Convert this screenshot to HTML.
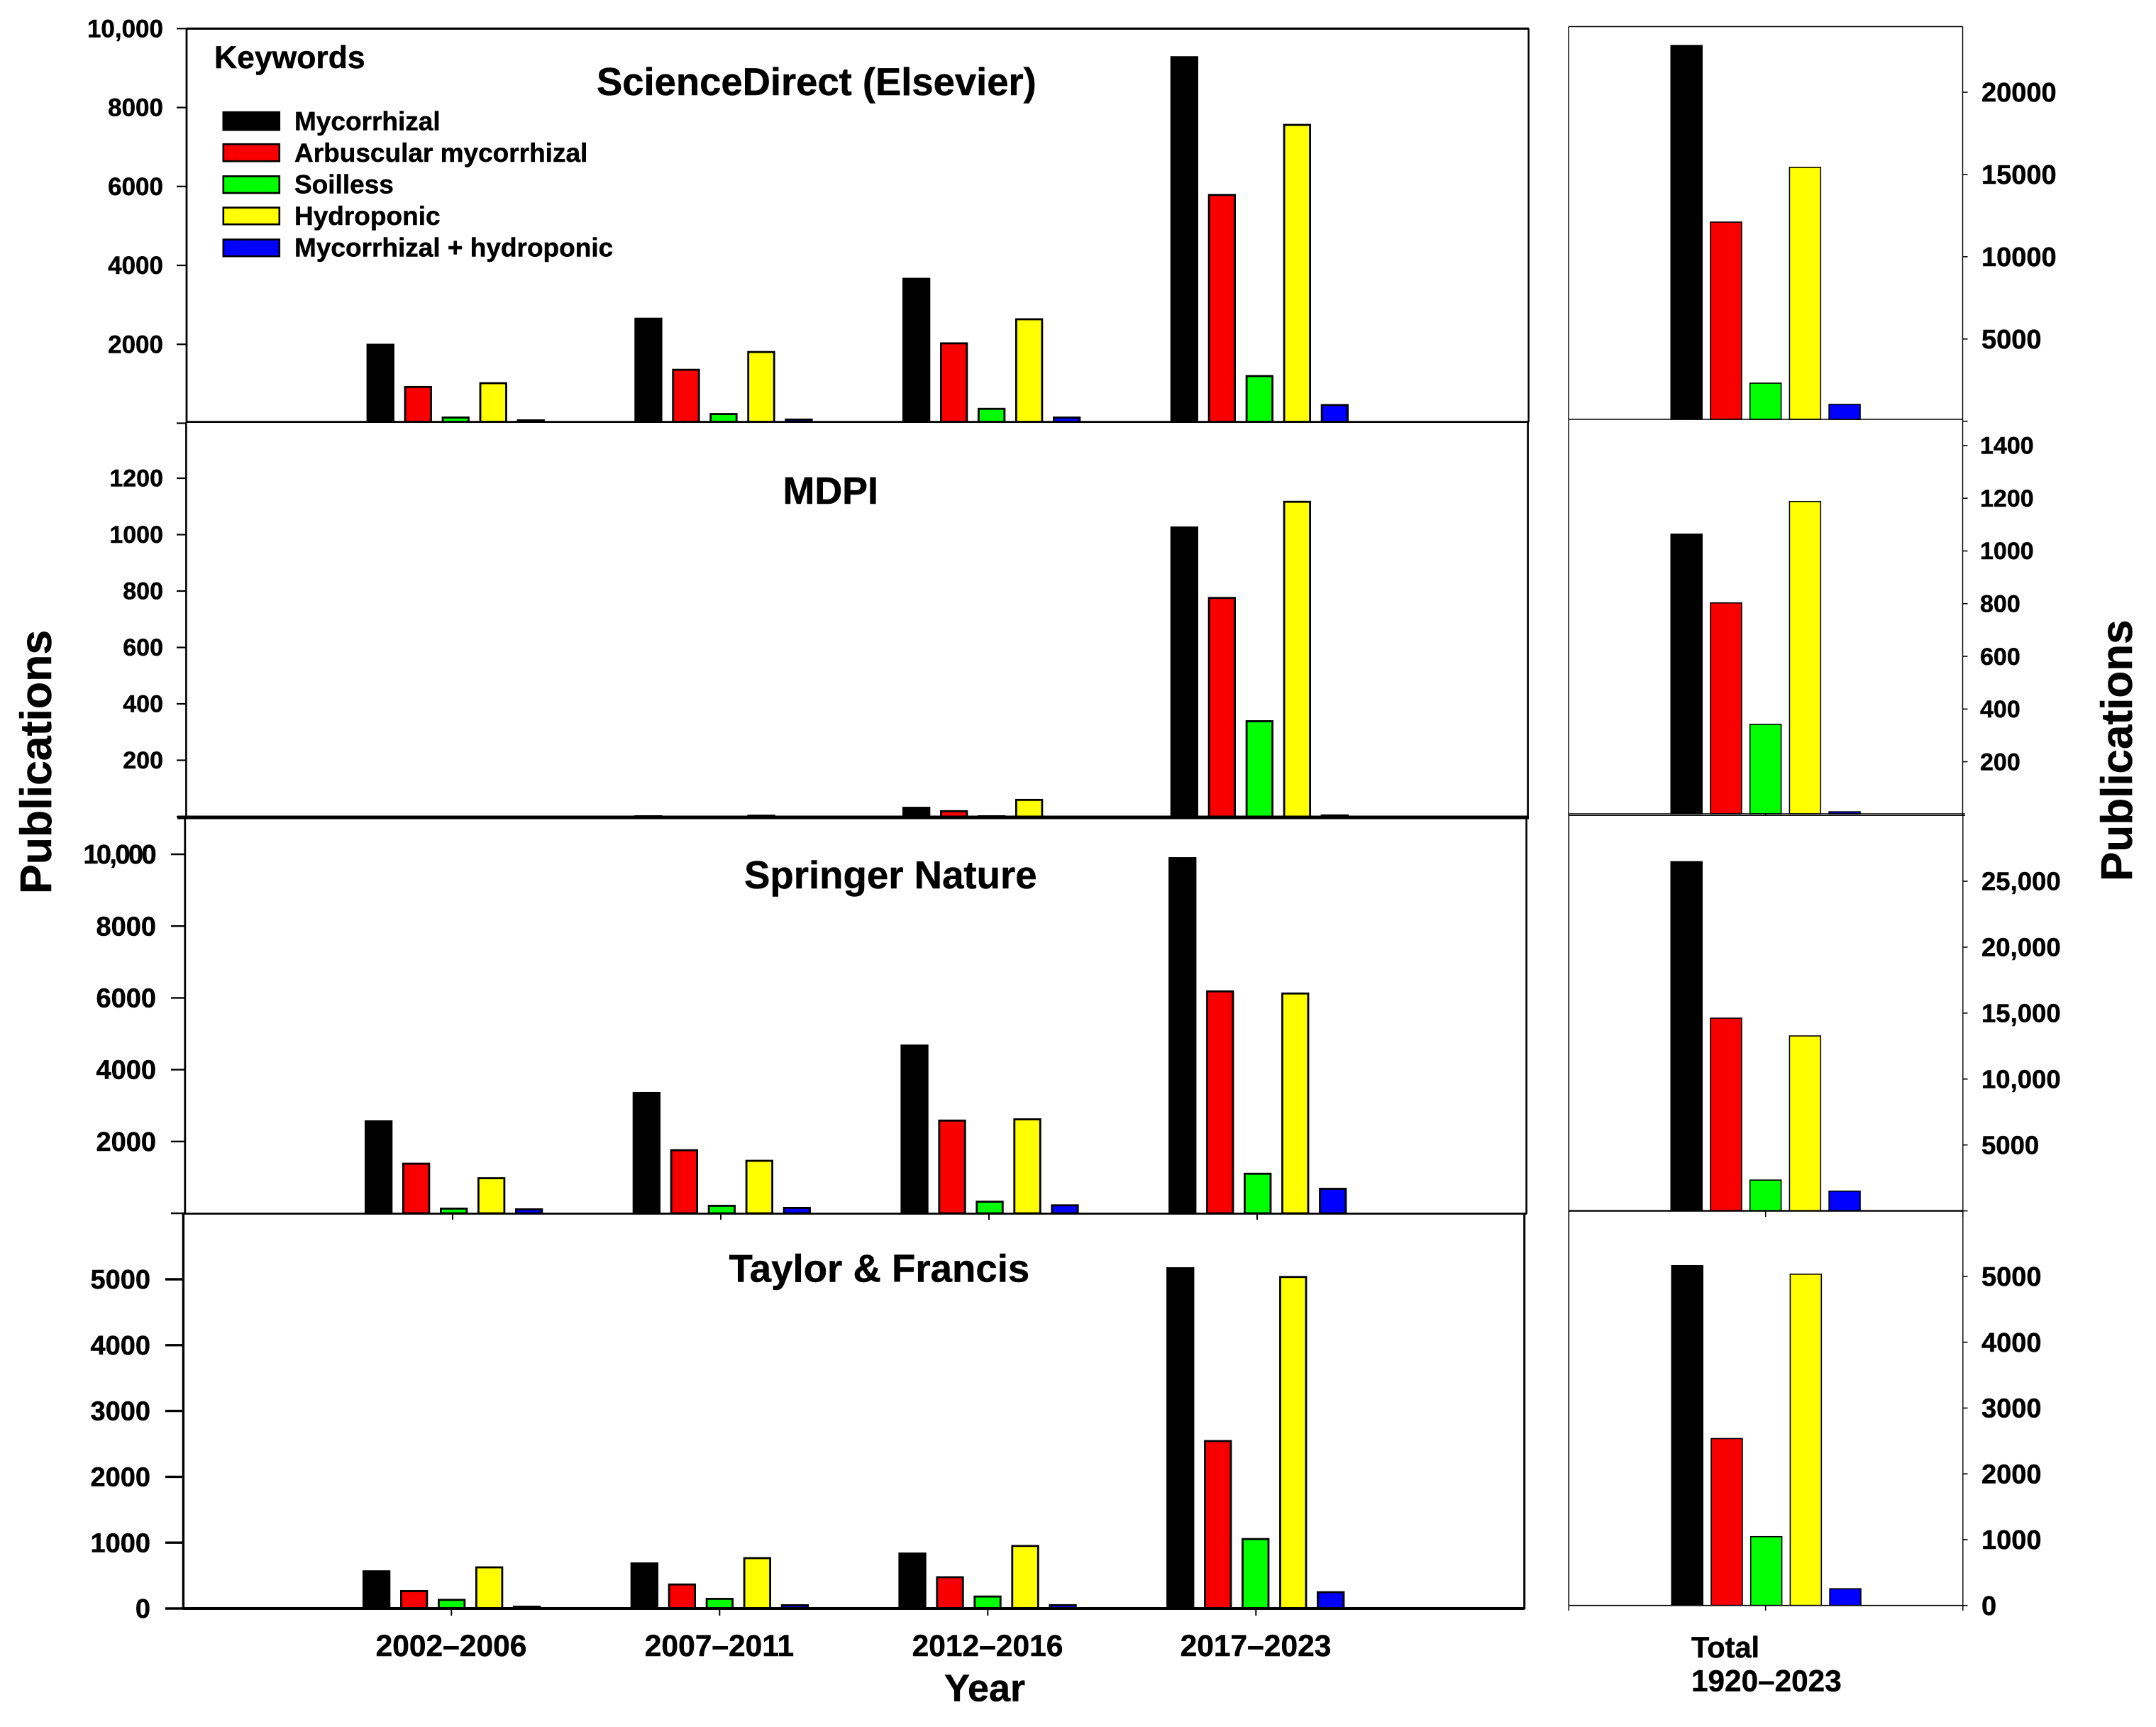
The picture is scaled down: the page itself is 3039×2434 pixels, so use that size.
<!DOCTYPE html>
<html lang="en">
<head>
<meta charset="utf-8">
<title>Publications by keyword and publisher</title>
<style>
html,body{margin:0;padding:0;background:#fff;}
svg{display:block;}
text{font-family:"Liberation Sans",sans-serif;font-weight:700;fill:#000;stroke:#000;stroke-width:0.5px;}
</style>
</head>
<body>
<svg id="chart" xmlns="http://www.w3.org/2000/svg" width="3039" height="2434" viewBox="0 0 3039 2434">
<rect x="0" y="0" width="3039" height="2434" fill="#fff"/>
<g id="bars"></g>

<g stroke="#000" fill="none">
  <line x1="263" y1="40.3" x2="2155" y2="40.3" stroke-width="3.2"/>
  <line x1="263" y1="40" x2="263" y2="596" stroke-width="2.8"/>
  <line x1="2154.6" y1="40" x2="2154.6" y2="595" stroke-width="2.4"/>
  <line x1="263" y1="594.6" x2="2155" y2="594.6" stroke-width="2.8"/>
  <line x1="262.4" y1="595" x2="262.4" y2="1152" stroke-width="2.6"/>
  <line x1="2153.6" y1="595" x2="2153.6" y2="1152" stroke-width="2.6"/>
  <line x1="250" y1="1152" x2="2155" y2="1152" stroke-width="5"/>
  <line x1="260.8" y1="1152" x2="260.8" y2="1710" stroke-width="2.8"/>
  <line x1="2151.6" y1="1152" x2="2151.6" y2="1711" stroke-width="2.6"/>
  <line x1="258" y1="1710.5" x2="2152" y2="1710.5" stroke-width="2.8"/>
  <line x1="258.4" y1="1710" x2="258.4" y2="2268" stroke-width="3.4"/>
  <line x1="2148.7" y1="1710" x2="2148.7" y2="2268" stroke-width="3"/>
  <line x1="258" y1="2267" x2="2149" y2="2267" stroke-width="4"/>
</g>

<g stroke="#000" fill="none">
  <line x1="2211" y1="37.5" x2="2766.5" y2="37.5" stroke-width="1.4"/>
  <line x1="2211" y1="37.5" x2="2211" y2="1149" stroke-width="1.4"/>
  <line x1="2211.3" y1="1149" x2="2211.3" y2="2263" stroke-width="1.6"/>
  <line x1="2766.5" y1="37.5" x2="2766.5" y2="1149" stroke-width="1.4"/>
  <line x1="2766.8" y1="1149" x2="2766.8" y2="2263" stroke-width="1.4"/>
  <line x1="2211" y1="591" x2="2767" y2="591" stroke-width="1.4"/>
  <line x1="2211" y1="1147" x2="2770" y2="1147" stroke-width="1.4"/>
  <line x1="2211" y1="1149.3" x2="2770" y2="1149.3" stroke-width="1.4"/>
  <line x1="2211" y1="1706.6" x2="2767" y2="1706.6" stroke-width="2.4"/>
  <line x1="2211" y1="2262.7" x2="2767" y2="2262.7" stroke-width="1.6"/>
</g>

<g id="axes"></g>

<text x="841" y="134" font-size="54.4">ScienceDirect (Elsevier)</text>
<text x="1103.5" y="710" font-size="53.8">MDPI</text>
<text x="1049" y="1252" font-size="54.6">Springer Nature</text>
<text x="1027.5" y="1806.5" font-size="54.6">Taylor &amp; Francis</text>

<g>
  <text x="302" y="96" font-size="44.5">Keywords</text>
  <rect x="314.8" y="158.2" width="79" height="25" fill="#000" stroke="#000" stroke-width="2.6"/>
  <text x="415" y="183.5" font-size="37">Mycorrhizal</text>
  <rect x="314.8" y="203.2" width="79" height="24" fill="#f80000" stroke="#000" stroke-width="2.6"/>
  <text x="415" y="228" font-size="37">Arbuscular mycorrhizal</text>
  <rect x="314.8" y="248.4" width="79" height="23.6" fill="#00ff00" stroke="#000" stroke-width="2.6"/>
  <text x="415" y="272.5" font-size="37">Soilless</text>
  <rect x="314.8" y="292.6" width="79" height="23.6" fill="#ffff00" stroke="#000" stroke-width="2.6"/>
  <text x="415" y="317" font-size="37">Hydroponic</text>
  <rect x="314.8" y="337.6" width="79" height="23.6" fill="#0000ff" stroke="#000" stroke-width="2.6"/>
  <text x="415" y="361.5" font-size="37">Mycorrhizal + hydroponic</text>
</g>

<text transform="translate(72 1260) rotate(-90)" font-size="62.6">Publications</text>
<text transform="translate(3005 1242) rotate(-90)" font-size="62">Publications</text>
<text x="1388" y="2397.5" font-size="54" text-anchor="middle">Year</text>
<text x="2384" y="2336" font-size="41.5">Total</text>
<text x="2384" y="2383.5" font-size="42.3">1920–2023</text>

<script>
// Categories and series
const categories = ['2002–2006', '2007–2011', '2012–2016', '2017–2023'];
const seriesNames = ['mycorrhizal', 'arbuscular-mycorrhizal', 'soilless', 'hydroponic', 'mycorrhizal-hydroponic'];
const seriesColors = ['#000000', '#f80000', '#00ff00', '#ffff00', '#0000ff'];

// ScienceDirect values by period
const sdMycorrhizal = [2014, 2675, 3685, 9300];
const sdArbuscular = [945, 1380, 2050, 5810];
const sdSoilless = [170, 258, 390, 1220];
const sdHydroponic = [1040, 1830, 2660, 7585];
const sdCombined = [98, 118, 169, 486];

// MDPI values by period
const mdpiMycorrhizal = [0, 5, 35, 1029];
const mdpiArbuscular = [0, 0, 23, 779];
const mdpiSoilless = [0, 0, 5, 342];
const mdpiHydroponic = [0, 7, 63, 1120];
const mdpiCombined = [0, 0, 0, 8];

// Springer Nature values by period
const snMycorrhizal = [2589, 3380, 4700, 9920];
const snArbuscular = [1410, 1785, 2610, 6210];
const snSoilless = [158, 237, 350, 1130];
const snHydroponic = [1005, 1490, 2645, 6150];
const snCombined = [138, 178, 250, 710];

// Taylor & Francis values by period
const tfMycorrhizal = [580, 700, 850, 5183];
const tfArbuscular = [280, 380, 490, 2558];
const tfSoilless = [147, 162, 197, 1070];
const tfHydroponic = [640, 780, 965, 5050];
const tfCombined = [43, 65, 66, 263];

// Totals 1920-2023 (one value per keyword)
const sdTotals = [22875, 12140, 2350, 15470, 1060];
const mdpiTotals = [1066, 805, 344, 1190, 12];
const snTotals = [26524, 14660, 2380, 13310, 1540];
const tfTotals = [5173, 2545, 1054, 5043, 262];

// Tick values and labels
const sdTicks = [0, 2000, 4000, 6000, 8000, 10000];
const sdTickLabels = ['', '2000', '4000', '6000', '8000', '10,000'];
const mdpiTicks = [0, 200, 400, 600, 800, 1000, 1200];
const mdpiTickLabels = ['', '200', '400', '600', '800', '1000', '1200'];
const snTicks = [0, 2000, 4000, 6000, 8000, 10000];
const snTickLabels = ['', '2000', '4000', '6000', '8000', '10,000'];
const tfTicks = [0, 1000, 2000, 3000, 4000, 5000];
const tfTickLabels = ['0', '1000', '2000', '3000', '4000', '5000'];
const sdTotalTicks = [0, 5000, 10000, 15000, 20000];
const sdTotalTickLabels = ['', '5000', '10000', '15000', '20000'];
const mdpiTotalTicks = [200, 400, 600, 800, 1000, 1200, 1400];
const mdpiTotalTickLabels = ['200', '400', '600', '800', '1000', '1200', '1400'];
const snTotalTicks = [0, 5000, 10000, 15000, 20000, 25000];
const snTotalTickLabels = ['', '5000', '10,000', '15,000', '20,000', '25,000'];
const tfTotalTicks = [0, 1000, 2000, 3000, 4000, 5000];
const tfTotalTickLabels = ['0', '1000', '2000', '3000', '4000', '5000'];

const NS = 'http://www.w3.org/2000/svg';
const barsLayer = document.getElementById('bars');
const axesLayer = document.getElementById('axes');

// Linear y axis: domain value to pixel
function yAxis(zeroY, refValue, refY) {
  return function (v) { return zeroY + (refY - zeroY) * v / refValue; };
}

function drawBar(x, top, w, base, color, sw) {
  if (base - top <= 0) return;
  const el = document.createElementNS(NS, 'rect');
  
  
  el.setAttribute('x', x + sw / 2);
  el.setAttribute('y', top + sw / 2);
  el.setAttribute('width', w - sw);
  el.setAttribute('height', Math.max(0.5, base - top - sw / 2));
  el.setAttribute('fill', color);
  el.setAttribute('stroke', '#000');
  el.setAttribute('stroke-width', sw);
  barsLayer.appendChild(el);
}

function drawYTick(x1, x2, y, w) {
  const el = document.createElementNS(NS, 'line');
  
  
  el.setAttribute('x1', x1);
  el.setAttribute('x2', x2);
  el.setAttribute('y1', y);
  el.setAttribute('y2', y);
  el.setAttribute('stroke', '#000');
  el.setAttribute('stroke-width', w);
  axesLayer.appendChild(el);
}

function drawXTick(x, y1, y2, w) {
  const el = document.createElementNS(NS, 'line');
  
  
  el.setAttribute('x1', x);
  el.setAttribute('x2', x);
  el.setAttribute('y1', y1);
  el.setAttribute('y2', y2);
  el.setAttribute('stroke', '#000');
  el.setAttribute('stroke-width', w);
  axesLayer.appendChild(el);
}

function drawYTickLabel(x, y, size, anchor, label, spacing) {
  const el = document.createElementNS(NS, 'text');
  
  
  el.setAttribute('x', x);
  el.setAttribute('y', y + size * 0.345);
  el.setAttribute('font-size', size);
  el.setAttribute('text-anchor', anchor);
  if (spacing) el.setAttribute('letter-spacing', spacing);
  el.textContent = label;
  axesLayer.appendChild(el);
}

function drawCategoryLabel(x, y, label) {
  const el = document.createElementNS(NS, 'text');
  
  
  el.setAttribute('x', x);
  el.setAttribute('y', y);
  el.setAttribute('font-size', 42.5);
  el.setAttribute('text-anchor', 'middle');
  el.textContent = label;
  axesLayer.appendChild(el);
}

// Main (period) panels
function drawMainPanel(cfg, series, ticks, tickLabels) {
  const y = yAxis(cfg.zeroY, cfg.refValue, cfg.refY);
  series.forEach(function (values, s) {
    values.forEach(function (v, g) {
      if (v <= 0) return;
      drawBar(cfg.firstX + g * 377.7 + s * 53, y(v), 39.3, cfg.baseY, seriesColors[s], 2.8);
    });
  });
  ticks.forEach(function (t, i) {
    drawYTick(cfg.tickX, cfg.axisX, y(t), cfg.tickW);
    if (!tickLabels[i]) return;
    const long = tickLabels[i].indexOf(',') >= 0;
    drawYTickLabel(long ? cfg.labelX - cfg.longShift : cfg.labelX, y(t), cfg.fontSize, 'end', tickLabels[i], long ? cfg.longSpacing : 0);
  });
}

// Total panels
function drawTotalPanel(cfg, totals, ticks, tickLabels) {
  const y = yAxis(cfg.zeroY, cfg.refValue, cfg.refY);
  totals.forEach(function (v, s) {
    if (v <= 0) return;
    drawBar(2354.5 + cfg.dx + s * 55.7, y(v), 45.5, cfg.baseY, seriesColors[s], 1.6);
  });
  ticks.forEach(function (t, i) {
    drawYTick(2766.5, 2773.5, y(t), 1.6);
    if (tickLabels[i]) drawYTickLabel(cfg.labelX, y(t), cfg.fontSize, 'start', tickLabels[i], 0);
  });
}

drawMainPanel(
  { firstX: 516.6, zeroY: 596.5, refValue: 10000, refY: 40.3, baseY: 594.6, axisX: 263, tickX: 249, tickW: 2.2, labelX: 230, fontSize: 35, longShift: 0, longSpacing: 0 },
  [sdMycorrhizal, sdArbuscular, sdSoilless, sdHydroponic, sdCombined], sdTicks, sdTickLabels);
drawMainPanel(
  { firstX: 516.6, zeroY: 1151, refValue: 1200, refY: 674, baseY: 1151, axisX: 262, tickX: 249, tickW: 2.2, labelX: 230, fontSize: 34, longShift: 0, longSpacing: 0 },
  [mdpiMycorrhizal, mdpiArbuscular, mdpiSoilless, mdpiHydroponic, mdpiCombined], mdpiTicks, mdpiTickLabels);
drawMainPanel(
  { firstX: 514, zeroY: 1710, refValue: 10000, refY: 1204, baseY: 1710, axisX: 261, tickX: 241, tickW: 2.4, labelX: 220, fontSize: 38, longShift: 2, longSpacing: -2.6 },
  [snMycorrhizal, snArbuscular, snSoilless, snHydroponic, snCombined], snTicks, snTickLabels);
drawMainPanel(
  { firstX: 511, zeroY: 2267, refValue: 5000, refY: 1803, baseY: 2267, axisX: 258, tickX: 233, tickW: 3.4, labelX: 212, fontSize: 38, longShift: 0, longSpacing: 0 },
  [tfMycorrhizal, tfArbuscular, tfSoilless, tfHydroponic, tfCombined], tfTicks, tfTickLabels);

drawTotalPanel({ dx: 0, zeroY: 593.7, refValue: 20000, refY: 130, baseY: 591, labelX: 2793, fontSize: 38 }, sdTotals, sdTotalTicks, sdTotalTickLabels);
drawTotalPanel({ dx: 0, zeroY: 1147.8, refValue: 1400, refY: 628, baseY: 1147, labelX: 2791, fontSize: 34 }, mdpiTotals, mdpiTotalTicks, mdpiTotalTickLabels);
drawTotalPanel({ dx: 0, zeroY: 1706.6, refValue: 25000, refY: 1242, baseY: 1706.6, labelX: 2793, fontSize: 36.5 }, snTotals, snTotalTicks, snTotalTickLabels);
drawTotalPanel({ dx: 1, zeroY: 2262.7, refValue: 5000, refY: 1799, baseY: 2262.7, labelX: 2793, fontSize: 38 }, tfTotals, tfTotalTicks, tfTotalTickLabels);

// X ticks and category labels
categories.forEach(function (label, g) {
  drawXTick(638 + g * 378, 1710, 1719, 2);
  drawXTick(636.3 + g * 378, 2267, 2277, 2);
  drawCategoryLabel(636 + g * 378, 2334, label);
});
[2211.3, 2488.7, 2766.8].forEach(function (x) {
  drawXTick(x, 1707, 1715, 1.5);
  drawXTick(x, 2263, 2270, 1.5);
});
drawXTick(2488.7, 1147, 1150, 1.5);
</script>
</svg>
</body>
</html>
